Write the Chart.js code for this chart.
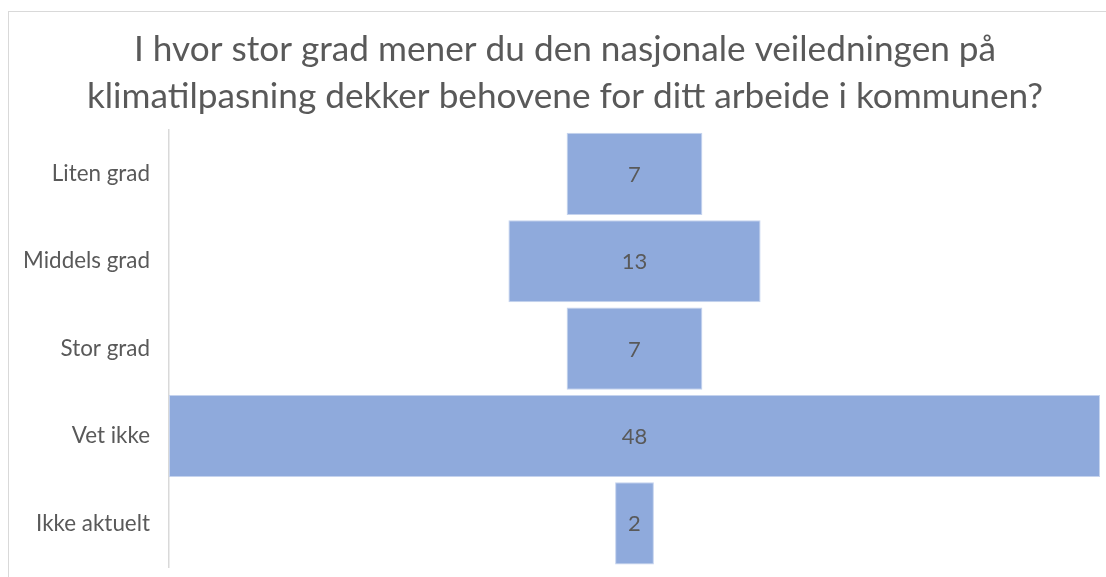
<!DOCTYPE html>
<html>
<head>
<meta charset="utf-8">
<script src="https://cdn.jsdelivr.net/npm/chart.js@4"></script>
<style>
  html, body { margin: 0; padding: 0; background: #fff; }
  #wrap { position: relative; width: 1106px; height: 577px; overflow: hidden; }
  #frame { position: absolute; left: 8px; top: 11px; width: 1200px; height: 700px; border: 1px solid #d9d9d9; }
  canvas { position: absolute; left: 0; top: 0; }
</style>
</head>
<body>
<div id="wrap">
  <div id="frame"></div>
  <canvas id="chart" width="1106" height="577"></canvas>
</div>
<script>
const categories = ["Liten grad", "Middels grad", "Stor grad", "Vet ikke", "Ikke aktuelt"];
const counts = [7, 13, 7, 48, 2];
const titleLines = [
  "I hvor stor grad mener du den nasjonale veiledningen på",
  "klimatilpasning dekker behovene for ditt arbeide i kommunen?"
];

const fontFamily = "Lato, 'Open Sans', sans-serif";
const textColor = "#595959";

// funnel: each bar centred on zero
const spans = counts.map(v => [-v / 2, v / 2]);

const valueLabels = {
  id: "valueLabels",
  afterDatasetsDraw(chart) {
    const ctx = chart.ctx;
    const meta = chart.getDatasetMeta(0);
    ctx.save();
    ctx.fillStyle = textColor;
    ctx.font = "22px " + fontFamily;
    ctx.textAlign = "center";
    ctx.textBaseline = "middle";
    meta.data.forEach((bar, i) => {
      const c = bar.getCenterPoint();
      ctx.fillText(String(counts[i]), c.x, c.y + 1);
    });
    ctx.restore();
  }
};

// let the category labels run into the left padding without being clipped
const unclipLabels = {
  id: "unclipLabels",
  afterLayout(chart) {
    chart.scales.y.left = 0;
  }
};

new Chart(document.getElementById("chart"), {
  type: "bar",
  data: {
    labels: categories,
    datasets: [{
      data: spans,
      backgroundColor: "#8faadc",
      borderColor: "#c5d3ee",
      borderWidth: 1,
      borderSkipped: false,
      categoryPercentage: 1,
      barPercentage: 0.94
    }]
  },
  options: {
    indexAxis: "y",
    responsive: false,
    animation: false,
    // left padding keeps the title centred on the (clipped) chart frame
    layout: { padding: { left: 30, right: 6, top: 0, bottom: 10 } },
    scales: {
      x: { display: false, min: -24, max: 24 },
      y: {
        grid: { display: false, drawTicks: false },
        border: { color: "#d9d9d9", width: 1.5 },
        ticks: { color: textColor, font: { family: fontFamily, size: 22.4 }, padding: 19 },
        afterFit(scale) {
          scale.width = 139;
          scale.paddingTop = 0;
          scale.paddingBottom = 0;
        }
      }
    },
    plugins: {
      legend: { display: false },
      tooltip: { enabled: false },
      title: {
        display: true,
        text: titleLines,
        color: textColor,
        font: { family: fontFamily, size: 35.2, weight: "normal", lineHeight: 1.31 },
        padding: { top: 27, bottom: 11 }
      }
    }
  },
  plugins: [valueLabels, unclipLabels]
});
</script>
</body>
</html>
